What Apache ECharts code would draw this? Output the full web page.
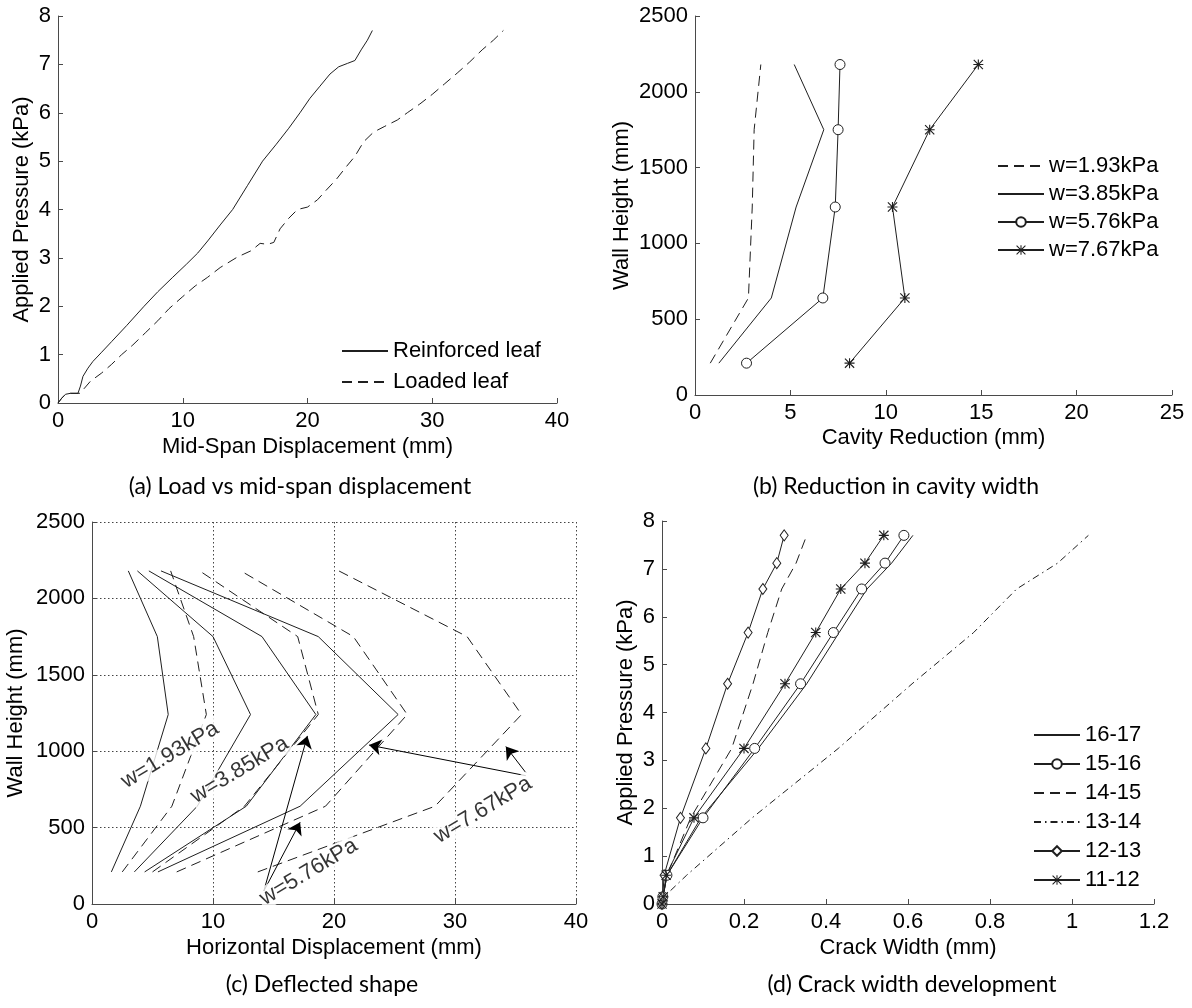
<!DOCTYPE html>
<html><head><meta charset="utf-8">
<script src="https://cdn.jsdelivr.net/npm/echarts@6/dist/echarts.min.js"></script>
<style>html,body{margin:0;padding:0;background:#fff;}#chart{width:1192px;height:1008px;}</style>
</head><body><div id="chart"></div>
<script>
// ---------- (a) Load vs mid-span displacement ----------
const aReinforcedX = [0,0.3,0.6,1.0,1.6,1.8,2.0,2.4,2.8,3.5,4.3,5.5,6.9,8.0,9.2,10.3,11.2,12.0,13.0,14.0,15.2,16.4,17.5,18.5,19.4,20.2,21.0,21.8,22.5,23.2,23.8,24.3,24.8,25.2];
const aReinforcedP = [0,0.1,0.18,0.2,0.2,0.35,0.55,0.72,0.86,1.05,1.27,1.6,2.0,2.3,2.6,2.87,3.1,3.35,3.68,4.0,4.5,5.0,5.35,5.68,6.0,6.3,6.55,6.8,6.95,7.02,7.08,7.3,7.5,7.7];
const aLoadedX = [0,0.3,0.6,1.0,1.8,2.1,2.6,3.5,4.3,5.1,6.0,7.0,8.0,8.9,10.0,11.0,12.0,13.0,14.4,15.5,16.2,16.8,17.3,17.8,18.5,19.2,20.0,20.8,21.5,22.3,23.0,23.8,24.5,25.3,26.2,27.2,28.0,29.0,30.0,31.0,32.0,33.0,34.0,34.9,35.7];
const aLoadedP = [0,0.1,0.18,0.2,0.2,0.3,0.45,0.62,0.8,1.0,1.2,1.45,1.7,1.95,2.2,2.42,2.6,2.8,3.02,3.15,3.3,3.28,3.32,3.6,3.82,4.0,4.05,4.2,4.4,4.62,4.85,5.1,5.4,5.6,5.72,5.85,6.0,6.18,6.38,6.6,6.82,7.05,7.3,7.5,7.7];
const aNames = ['Reinforced leaf','Loaded leaf'];

// ---------- (b) Reduction in cavity width ----------
const bHeights = [210, 640, 1240, 1750, 2180];
const bW193 = [0.8, 2.8, 3.0, 3.1, 3.45];
const bW385 = [1.25, 4.0, 5.3, 6.75, 5.2];
const bW576 = [2.7, 6.7, 7.35, 7.5, 7.6];
const bW767 = [8.1, 11.0, 10.35, 12.3, 14.85];
const bNames = ['w=1.93kPa','w=3.85kPa','w=5.76kPa','w=7.67kPa'];

// ---------- (c) Deflected shape ----------
const cHeights = [210, 640, 1240, 1750, 2180];
const cReinf193 = [1.6, 4.0, 6.3, 5.4, 3.0];
const cReinf385 = [3.5, 8.7, 13.1, 10.0, 3.75];
const cReinf576 = [4.35, 12.75, 18.5, 14.05, 4.7];
const cReinf767 = [5.45, 17.2, 25.3, 18.7, 5.7];
const cLoad193 = [2.5, 6.6, 9.45, 8.4, 6.5];
const cLoad385 = [5.0, 12.6, 18.7, 17.0, 8.9];
const cLoad576 = [7.0, 19.3, 26.05, 21.6, 12.3];
const cLoad767 = [13.7, 28.35, 35.5, 31.0, 20.4];
// annotation anchors (data units) and arrows [x1,y1,x2,y2]
const cNoteText = ['w=1.93kPa','w=3.85kPa','w=5.76kPa','w=7.67kPa'];
const cNoteX = [6.45, 12.2, 17.9, 32.3];
const cNoteY = [975, 877, 209, 615];
const cArrows = [[14.2, 85, 17.8, 1100],[14.2, 85, 17.2, 535],[35.85, 840, 22.9, 1040],[35.85, 860, 34.2, 1030]];

// ---------- (d) Crack width development ----------
const dPressure = [0, 0.15, 0.6, 1.8, 3.25, 4.6, 5.67, 6.58, 7.12, 7.7];
const d1617 = [0, 0.003, 0.012, 0.095, 0.235, 0.353, 0.432, 0.5, 0.56, 0.612];
const d1516 = [0, 0.002, 0.012, 0.1, 0.226, 0.338, 0.418, 0.487, 0.544, 0.59];
const d1415 = [0, 0.003, 0.012, 0.07, 0.17, 0.222, 0.258, 0.292, 0.327, 0.353];
const d1314 = [0, 0.005, 0.06, 0.22, 0.43, 0.61, 0.76, 0.865, 0.965, 1.04];
const d1213 = [0, 0.002, 0.005, 0.045, 0.107, 0.16, 0.21, 0.246, 0.28, 0.298];
const d1112 = [0, 0.003, 0.01, 0.078, 0.2, 0.3, 0.375, 0.436, 0.495, 0.541];
const dNames = ['16-17','15-16','14-15','13-14','12-13','11-12'];

const captions = ['(a) Load vs mid-span displacement','(b) Reduction in cavity width','(c) Deflected shape','(d) Crack width development'];

// ---------- styling ----------
const FONT = 'Arial';
const INK = '#1f1f1f';
const AXC = '#4a4a4a';
const FS = 22;
const DASH = [10, 6];
const DASHDOT = [7, 4, 1.5, 4];
const STAR = 'path://M8.9 0h2.2v20h-2.2z M0 8.9h20v2.2h-20z M1.6 0L20 18.4L18.4 20L0 1.6z M18.4 0L20 1.6L1.6 20L0 18.4z';
const noMarker = new Set();

function pairs(xs, ys){ return xs.map((x,i)=>[x, ys[i]]); }
function fmt(v){ return String(Math.round(v * 1000) / 1000); }

function axis(gridIndex, min, max, interval, name, nameGap, opts){
  opts = opts || {};
  return {
    type:'value', gridIndex, min, max, interval, name,
    nameLocation:'middle', nameGap,
    nameTextStyle:{fontSize:FS, color:'#000', fontFamily:FONT},
    axisLine:{show:true, onZero:false, lineStyle:{color:AXC, width:1}},
    axisTick:{show:true, inside:true, length:5, lineStyle:{color:AXC}},
    axisLabel:{fontSize:FS, color:'#000', fontFamily:FONT, margin:7, formatter:fmt, showMinLabel:true, showMaxLabel:true},
    splitLine: opts.grid ? {show:true, lineStyle:{type:[1.5,2.5], color:'#444', width:1}} : {show:false}
  };
}

function line(name, gi, data, o){
  o = o || {};
  if (!o.symbol) noMarker.add(name);
  return {
    type:'line', name, xAxisIndex:gi, yAxisIndex:gi, data,
    showSymbol: !!o.symbol, symbol: o.symbol || 'none', symbolSize: o.size || 9,
    lineStyle:{color:INK, width:1, type: o.dash || 'solid'},
    itemStyle: o.symbol === STAR ? {color:INK} : {color:'#fff', borderColor:INK, borderWidth:1},
    emphasis:{disabled:true}, silent:true, animation:false, z:3
  };
}

const series = [];
// (a)
series.push(line(aNames[0], 0, pairs(aReinforcedX, aReinforcedP)));
series.push(line(aNames[1], 0, pairs(aLoadedX, aLoadedP), {dash:DASH}));
// (b)
series.push(line(bNames[0], 1, pairs(bW193, bHeights), {dash:DASH}));
series.push(line(bNames[1], 1, pairs(bW385, bHeights)));
series.push(line(bNames[2], 1, pairs(bW576, bHeights), {symbol:'circle', size:10}));
series.push(line(bNames[3], 1, pairs(bW767, bHeights), {symbol:STAR, size:10}));
// (c)
[[cReinf193,'solid'],[cReinf385,'solid'],[cReinf576,'solid'],[cReinf767,'solid'],
 [cLoad193,DASH],[cLoad385,DASH],[cLoad576,DASH],[cLoad767,DASH]].forEach((p,i)=>{
  series.push(line('c' + i, 2, pairs(p[0], cHeights), {dash:p[1]}));
});
series.push({
  type:'scatter', name:'notes', xAxisIndex:2, yAxisIndex:2, silent:true, animation:false, z:5,
  symbolSize:1, itemStyle:{color:'rgba(0,0,0,0)'},
  data: cNoteText.map((t,i)=>({name:t, value:[cNoteX[i], cNoteY[i]]})),
  label:{show:true, position:'inside', formatter:(p)=>p.name, rotate:31, fontSize:FS, color:'#000', fontFamily:FONT,
         backgroundColor:'#fff', padding:[0,2]},
  markLine:{
    silent:true, animation:false, symbol:['none','arrow'], symbolSize:12,
    lineStyle:{type:'solid', color:'#000', width:1}, label:{show:false},
    data: cArrows.map(a=>[{coord:[a[0],a[1]]},{coord:[a[2],a[3]]}])
  }
});
// (d)
series.push(line(dNames[0], 3, pairs(d1617, dPressure)));
series.push(line(dNames[1], 3, pairs(d1516, dPressure), {symbol:'circle', size:10}));
series.push(line(dNames[2], 3, pairs(d1415, dPressure), {dash:DASH}));
series.push(line(dNames[3], 3, pairs(d1314, dPressure), {dash:DASHDOT}));
series.push(line(dNames[4], 3, pairs(d1213, dPressure), {symbol:'diamond', size:[8,11]}));
series.push(line(dNames[5], 3, pairs(d1112, dPressure), {symbol:STAR, size:10}));

function legend(names, left, top, gap){
  return {
    data: names.map(n => noMarker.has(n) ? {name:n, itemStyle:{opacity:0}} : {name:n}),
    left, top, orient:'vertical', padding:0, itemWidth:46, itemHeight:12, itemGap:gap,
    selectedMode:false, textStyle:{fontSize:FS, color:'#000', fontFamily:FONT}
  };
}

const capPos = [[300,487],[896,487],[322,985],[912,985]];

const option = {
  backgroundColor:'#fff',
  animation:false,
  grid:[
    {left:58, top:16, width:499, height:387},
    {left:695, top:16, width:477, height:379},
    {left:92, top:522, width:484, height:382},
    {left:662, top:521, width:492, height:383}
  ],
  xAxis:[
    axis(0, 0, 40, 10, 'Mid-Span Displacement (mm)', 33),
    axis(1, 0, 25, 5, 'Cavity Reduction (mm)', 32),
    axis(2, 0, 40, 10, 'Horizontal Displacement (mm)', 33, {grid:true}),
    axis(3, 0, 1.2, 0.2, 'Crack Width (mm)', 33)
  ],
  yAxis:[
    axis(0, 0, 8, 1, 'Applied Pressure (kPa)', 25),
    axis(1, 0, 2500, 500, 'Wall Height (mm)', 62),
    axis(2, 0, 2500, 500, 'Wall Height (mm)', 65, {grid:true}),
    axis(3, 0, 8, 1, 'Applied Pressure (kPa)', 25)
  ],
  legend:[
    legend(aNames, 341, 340, 9),
    legend(bNames, 997, 155, 6),
    legend(dNames, 1033, 724, 7)
  ],
  graphic: captions.map((t,i)=>({type:'text', x:capPos[i][0], y:capPos[i][1], silent:true,
    style:{text:t, font:'23px Lato, "Open Sans", sans-serif', fill:'#000', align:'center', verticalAlign:'middle'}})),
  series
};

const chart = echarts.init(document.getElementById('chart'), null, {renderer:'canvas'});
chart.setOption(option);
</script>
</body></html>
